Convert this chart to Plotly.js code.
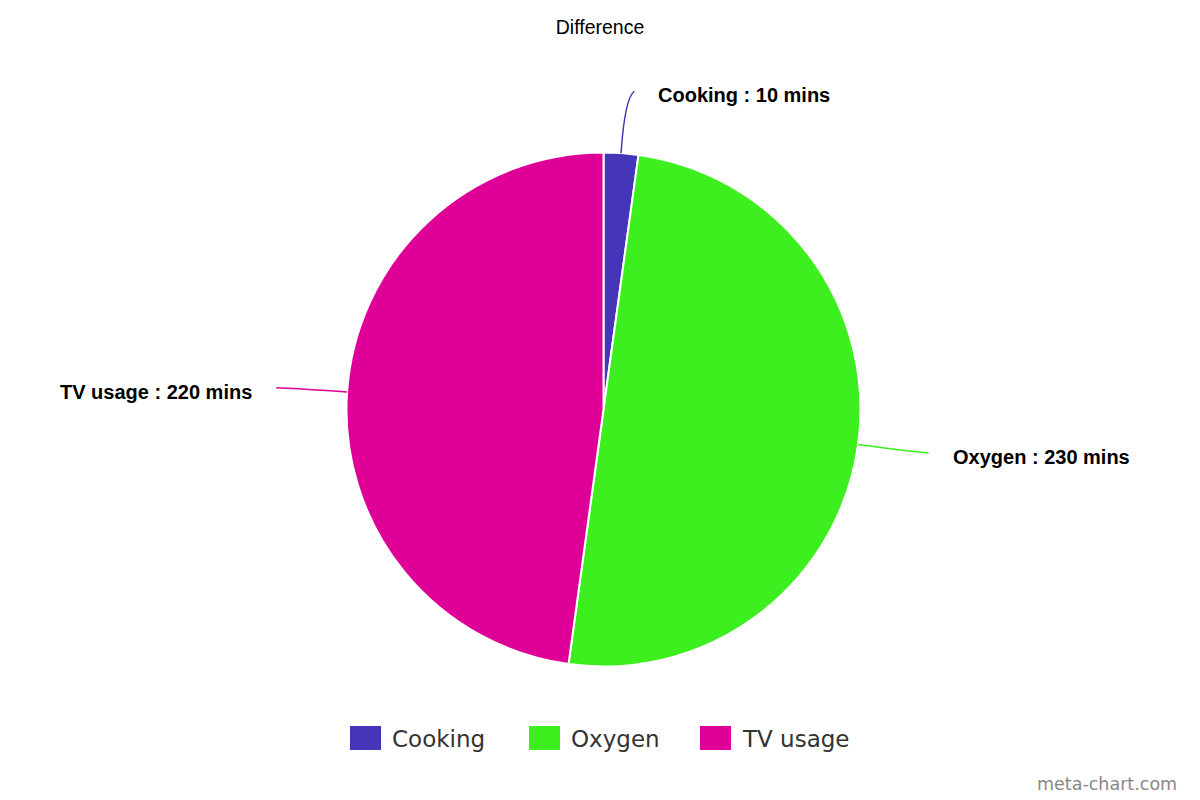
<!DOCTYPE html>
<html>
<head>
<meta charset="utf-8">
<script src="https://cdn.plot.ly/plotly-3.0.1.min.js"></script>
<style>html,body{margin:0;padding:0;background:#fff;}#chart{width:1200px;height:800px;}</style>
</head>
<body>
<div id="chart"></div>
<script>
const categories = ["Cooking", "Oxygen", "TV usage"];
const values = [10, 230, 220];
const unit = "mins";
const colors = ["#4535b8", "#3def1f", "#df0097"];
const chartTitle = "Difference";

const W = 1200, H = 800;
const cx = 603.5, cy = 409.5, R = 257;
const px = x => x / W;
const py = y => 1 - y / H;

const total = values.reduce((a, b) => a + b, 0);
const shapes = [];
const annotations = [];
let cum = 0;
values.forEach((v, i) => {
  const mid = (cum + v / 2) / total * 2 * Math.PI;
  cum += v;
  const s = Math.sin(mid), c = Math.cos(mid);
  const side = s >= 0 ? 1 : -1;
  const P0 = [cx + R * s, cy - R * c];
  const L = 62;
  const E = [cx + (R + L) * s + side * 9, cy - (R + L) * c];
  const C = [P0[0] + s * 55, P0[1] - c * 55];
  shapes.push({
    type: "path", xref: "paper", yref: "paper",
    path: `M ${px(P0[0])} ${py(P0[1])} Q ${px(C[0])} ${py(C[1])} ${px(E[0])} ${py(E[1])}`,
    line: {color: colors[i], width: 1.5}
  });
  annotations.push({
    xref: "paper", yref: "paper",
    x: px(E[0] + side * 22), y: py(E[1] + 4),
    xanchor: side > 0 ? "left" : "right", yanchor: "middle",
    text: `<b>${categories[i]} : ${v} ${unit}</b>`,
    showarrow: false,
    font: {family: "Liberation Sans, Arial, sans-serif", size: 20, color: "#000"}
  });
});

// custom legend
const legendSwatchX = [350, 529, 700];
categories.forEach((name, i) => {
  const x0 = legendSwatchX[i];
  shapes.push({
    type: "rect", xref: "paper", yref: "paper",
    x0: px(x0), x1: px(x0 + 31), y0: py(750), y1: py(726),
    fillcolor: colors[i], line: {width: 0}
  });
  annotations.push({
    xref: "paper", yref: "paper", x: px(x0 + 40), y: py(739),
    xanchor: "left", yanchor: "middle", showarrow: false,
    text: name,
    font: {family: "DejaVu Sans, sans-serif", size: 23, color: "#333"}
  });
});

annotations.push({
  xref: "paper", yref: "paper", x: px(1179), y: py(784),
  xanchor: "right", yanchor: "middle", showarrow: false,
  text: "meta-chart.com",
  font: {family: "DejaVu Sans, sans-serif", size: 17.5, color: "#888"}
});

const data = [{
  type: "pie",
  labels: categories,
  values: values,
  sort: false,
  direction: "clockwise",
  rotation: 0,
  textinfo: "none",
  hoverinfo: "label+value",
  marker: {colors: colors, line: {color: "#ffffff", width: 2}},
  domain: {x: [px(cx - R), px(cx + R)], y: [py(cy + R), py(cy - R)]},
  showlegend: false
}];

const layout = {
  width: W, height: H,
  margin: {l: 0, r: 0, t: 0, b: 0},
  paper_bgcolor: "#fff",
  title: {
    text: chartTitle, x: 0.5, xanchor: "center",
    y: py(27), yref: "container", yanchor: "middle",
    font: {family: "Liberation Sans, Arial, sans-serif", size: 19.5, color: "#000"}
  },
  showlegend: false,
  shapes: shapes,
  annotations: annotations
};

Plotly.newPlot("chart", data, layout, {displayModeBar: false, staticPlot: true});
</script>
</body>
</html>
